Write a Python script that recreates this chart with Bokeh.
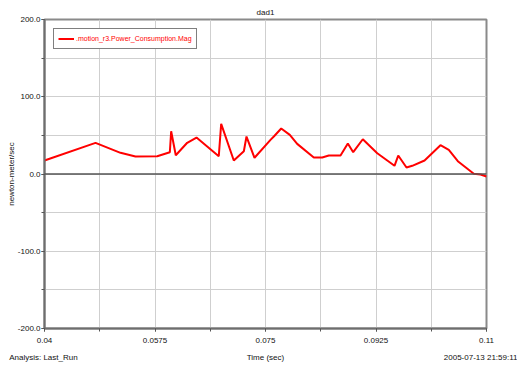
from bokeh.plotting import figure
from bokeh.models import Range1d, FixedTicker, Span, Legend, LinearAxis
from bokeh.embed import file_html
from bokeh.resources import INLINE

# ---- data ----
time = [0.04, 0.04808, 0.05204, 0.05441, 0.05785, 0.05985, 0.06006, 0.06079,
        0.0626, 0.06407, 0.0676, 0.06798, 0.06998, 0.07157, 0.07199, 0.07326,
        0.07579, 0.07632, 0.07749, 0.07885, 0.08002, 0.08265, 0.08398, 0.08503,
        0.08688, 0.08804, 0.08889, 0.09041, 0.0927, 0.09543, 0.09602, 0.09733,
        0.09824, 0.10019, 0.10271, 0.10403, 0.10546, 0.10799, 0.10905, 0.11]
power = [17.5, 40.3, 27.4, 22.6, 23.0, 28.2, 55.4, 24.3, 40.4, 47.2, 23.0, 64.9,
         17.5, 29.5, 48.5, 21.0, 44.2, 48.5, 58.9, 50.7, 39.0, 21.3, 21.3, 23.9,
         23.9, 39.5, 28.2, 45.0, 26.9, 10.6, 23.9, 8.4, 10.6, 17.5, 37.3, 31.3,
         16.6, 0.3, -0.6, -3.2]

x_tick_labels = ["0.04", "0.0575", "0.075", "0.0925", "0.11"]
x_grid = [0.04, 0.04875, 0.0575, 0.06625, 0.075, 0.08375, 0.0925, 0.10125, 0.11]
y_tick_labels = ["-200.0", "-100.0", "0.0", "100.0", "200.0"]
y_grid = [-200, -150, -100, -50, 0, 50, 100, 150, 200]

series_name = ".motion_r3.Power_Consumption.Mag"
title_text = "dad1"
x_label = "Time (sec)"
y_label = "newton-meter/sec"
analysis_text = "Analysis:  Last_Run"
date_text = "2005-07-13 21:59:11"
footer_pos = [0.04, 0.075, 0.11]
footer_labels = [analysis_text, x_label, date_text]

FONT = "Liberation Sans"
FS = "8px"

p = figure(width=517, height=370, output_backend="svg", toolbar_location=None,
           x_range=Range1d(0.04, 0.11), y_range=Range1d(-200, 200),
           min_border_left=44, min_border_right=31, min_border_top=19,
           min_border_bottom=42, background_fill_color="white",
           border_fill_color="white")

p.title.text = title_text
p.title.align = "center"
p.title.text_font = FONT
p.title.text_font_size = FS
p.title.text_font_style = "normal"
p.title.text_color = "#111111"
p.title.standoff = 5

p.outline_line_color = "#8a8a8a"
p.outline_line_width = 2

x_major = [float(s) for s in x_tick_labels]
y_major = [float(s) for s in y_tick_labels]

p.xaxis.ticker = FixedTicker(ticks=x_major, minor_ticks=x_grid)
p.yaxis.ticker = FixedTicker(ticks=y_major, minor_ticks=y_grid)
p.xaxis.major_label_overrides = {v: s for v, s in zip(x_major, x_tick_labels)}
p.yaxis.major_label_overrides = {v: s for v, s in zip(y_major, y_tick_labels)}

for ax in (p.xaxis[0], p.yaxis[0]):
    ax.axis_line_color = "#6e6e6e"
    ax.axis_line_width = 2
    ax.major_tick_line_color = "#555555"
    ax.minor_tick_line_color = "#555555"
    ax.major_tick_out = 3
    ax.major_tick_in = 0
    ax.minor_tick_out = 3
    ax.minor_tick_in = 0
    ax.major_label_text_font = FONT
    ax.major_label_text_font_size = FS
    ax.major_label_text_color = "#111111"

p.xaxis.major_label_standoff = 6
p.yaxis.major_label_standoff = 1
p.yaxis.axis_label = y_label
p.yaxis.axis_label_text_font = FONT
p.yaxis.axis_label_text_font_size = FS
p.yaxis.axis_label_text_font_style = "normal"
p.yaxis.axis_label_text_color = "#111111"
p.yaxis.axis_label_standoff = -1

# footer row: analysis name, x-axis title, date
footer = LinearAxis(ticker=FixedTicker(ticks=footer_pos),
                    major_label_overrides={v: s for v, s in zip(footer_pos, footer_labels)},
                    axis_line_color=None, major_tick_line_color=None,
                    minor_tick_line_color=None, major_tick_out=0, major_tick_in=0,
                    minor_tick_out=0, minor_tick_in=0, major_label_standoff=7,
                    major_label_text_font=FONT, major_label_text_font_size=FS,
                    major_label_text_color="#111111")
p.add_layout(footer, "below")

p.xgrid.ticker = FixedTicker(ticks=x_grid)
p.ygrid.ticker = FixedTicker(ticks=y_grid)
for g in (p.xgrid[0], p.ygrid[0]):
    g.grid_line_color = "#cfcfcf"
    g.grid_line_width = 1

p.add_layout(Span(location=0, dimension="width", line_color="#555555", line_width=1.5))

r = p.line(time, power, line_color="#ff0000", line_width=2)

legend = Legend(items=[(series_name, [r])], location="top_left", margin=9,
                padding=4, spacing=0, glyph_width=16, glyph_height=11,
                label_standoff=2, label_text_font=FONT, label_text_font_size="7px",
                label_text_color="#ff0000", border_line_color="#000000",
                border_line_width=1, background_fill_alpha=1.0)
p.add_layout(legend)

open("out.html", "w").write(file_html(p, INLINE))
